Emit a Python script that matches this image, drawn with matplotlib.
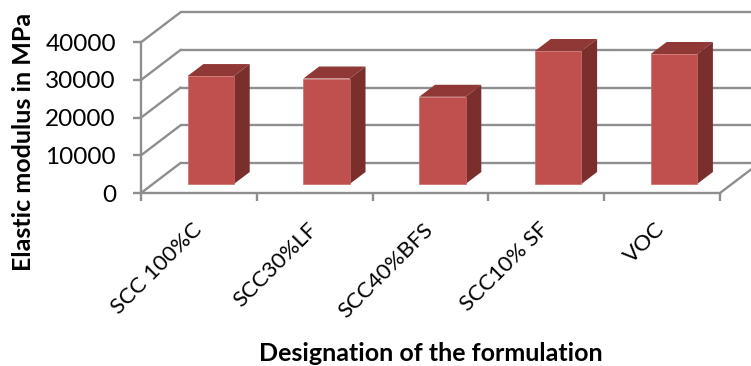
import numpy as np
import matplotlib.pyplot as plt
from matplotlib.lines import Line2D
from matplotlib.patches import Polygon
from matplotlib.transforms import Affine2D, IdentityTransform

plt.rcParams['font.family'] = ['Lato', 'DejaVu Sans']

categories = ['SCC 100%C', 'SCC30%LF', 'SCC40%BFS', 'SCC10% SF', 'VOC']
modulus = [28650, 28000, 23150, 35300, 34500]
y_ticks = [0, 10000, 20000, 30000, 40000]

GRID = '#8e8e8e'
FRONT = '#c0504d'
TOP = '#8f3836'
SIDE = '#7b2f2d'

# depth of the floor in pixels, and where the bars sit along it
WALL_DX, WALL_DY = 39.5, 30
BAR_NEAR, BAR_FAR = 0.3, 0.7
BAR_WIDTH = 0.4

fig = plt.figure(figsize=(7.51, 3.66), dpi=100)
ax = fig.add_axes([141 / 751, (366 - 193) / 366, 579 / 751, 150.7 / 366])
ax.set_xlim(0, len(categories))
ax.set_ylim(0, 40000)
ax.patch.set_visible(False)


def depth_shift(d):
    return ax.transData + Affine2D().translate(d * WALL_DX, d * WALL_DY)


def project(x, y, d):
    px, py = ax.transData.transform((x, y))
    return px + d * WALL_DX, py + d * WALL_DY


def add_line(p0, p1):
    ax.add_line(Line2D([p0[0], p1[0]], [p0[1], p1[1]], color=GRID, lw=1.7,
                       transform=IdentityTransform(), clip_on=False, zorder=1))


# back wall gridlines and the slanted lines on the left side wall
ax.hlines(y_ticks, 0, len(categories), color=GRID, lw=1.7,
          transform=depth_shift(1), clip_on=False, zorder=1)
for v in y_ticks:
    add_line(project(0, v, 0), project(0, v, 1))
add_line(project(len(categories), 0, 0), project(len(categories), 0, 1))

# 3D bars: front face, then top and side faces
centers = np.arange(len(categories)) + 0.5
ax.bar(centers, modulus, width=BAR_WIDTH, color=FRONT, edgecolor='#cb6b68', linewidth=0.5,
       transform=depth_shift(BAR_NEAR), clip_on=False, zorder=3)
for c, v in zip(centers, modulus):
    x0, x1 = c - BAR_WIDTH / 2, c + BAR_WIDTH / 2
    top = [project(x0, v, BAR_NEAR), project(x1, v, BAR_NEAR),
           project(x1, v, BAR_FAR), project(x0, v, BAR_FAR)]
    side = [project(x1, 0, BAR_NEAR), project(x1, v, BAR_NEAR),
            project(x1, v, BAR_FAR), project(x1, 0, BAR_FAR)]
    ax.add_patch(Polygon(top, closed=True, facecolor=TOP, edgecolor='none',
                         transform=IdentityTransform(), clip_on=False, zorder=2))
    ax.add_patch(Polygon(side, closed=True, facecolor=SIDE, edgecolor='none',
                         transform=IdentityTransform(), clip_on=False, zorder=2))

for name in ['top', 'right']:
    ax.spines[name].set_visible(False)
for name in ['left', 'bottom']:
    ax.spines[name].set_color(GRID)
    ax.spines[name].set_linewidth(1.7)

ax.set_yticks(y_ticks)
ax.set_xticks(range(len(categories) + 1))
ax.set_xticklabels([])
ax.tick_params(axis='both', color=GRID, width=1.7, length=6)
ax.tick_params(axis='y', labelsize=17.5, pad=12)

# rotated labels hang off the middle of each category slot
for c, name in zip(centers, categories):
    ax.annotate(name, xy=(c, 0), xytext=(-5.5, -19), xycoords='data', textcoords='offset points',
                rotation=45, ha='right', va='top', rotation_mode='anchor', fontsize=16)

ax.set_xlabel('Designation of the formulation', fontsize=18, fontweight='bold')
ax.xaxis.set_label_coords(0.5, -0.99)
ax.set_ylabel('Elastic modulus in MPa', fontsize=18, fontweight='bold')
ax.yaxis.set_label_coords(-0.183, 0.34)

fig.savefig('out.png', dpi=100)
